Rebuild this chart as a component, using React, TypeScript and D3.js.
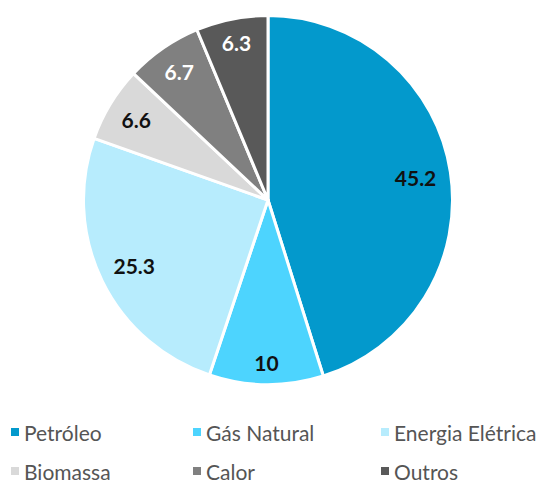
import React from "react";
import * as d3 from "d3";

const categories = ["Petróleo", "Gás Natural", "Energia Elétrica", "Biomassa", "Calor", "Outros"];
const values = [45.2, 10, 25.3, 6.6, 6.7, 6.3];
const colors = ["#0399cc", "#4dd4fe", "#b7ecfd", "#d9d9d9", "#808080", "#595959"];
const labelColors = ["#111", "#111", "#111", "#111", "#fff", "#fff"];

let ctx: CanvasRenderingContext2D | null = null;
function measure(text: string, font: string): number {
  if (!ctx) ctx = document.createElement("canvas").getContext("2d");
  if (!ctx) return text.length * 11;
  ctx.font = font;
  return ctx.measureText(text).width;
}

export default function App() {
  const W = 542, H = 482;
  const cx = 268, cy = 200, R = 184.5;
  const pie = d3.pie<number>().sort(null).value((d) => d);
  const arcs = pie(values);
  const arc = d3.arc<d3.PieArcDatum<number>>().innerRadius(0).outerRadius(R);
  const legendX = [15, 197, 385];
  const legendY = [432, 471];
  const labelFont = "bold 21px Lato";
  const edge = R - 13.5;
  const halfH = 8;
  return (
    <svg width={W} height={H} style={{ position: "absolute", left: 0, top: 0 }} fontFamily="Lato, sans-serif">
      <g transform={`translate(${cx},${cy})`}>
        {arcs.map((a, i) => (
          <path key={i} d={arc(a) || ""} fill={colors[i]} stroke="#fff" strokeWidth={3} strokeLinejoin="round" />
        ))}
        {arcs.map((a, i) => {
          const t = String(values[i]);
          const mid = (a.startAngle + a.endAngle) / 2;
          const s = Math.sin(mid), c = Math.cos(mid);
          const halfW = measure(t, labelFont) / 2;
          const r = edge - (Math.abs(s) * halfW + Math.abs(c) * halfH);
          const x = r * s, y = -r * c;
          return (
            <text key={i} x={x} y={y} textAnchor="middle" dominantBaseline="central" fontSize={21} fontWeight="bold" fill={labelColors[i]}>
              {t}
            </text>
          );
        })}
      </g>
      {categories.map((c, i) => {
        const x = legendX[i % 3];
        const y = legendY[Math.floor(i / 3)];
        return (
          <g key={c}>
            <rect x={x - 4} y={y - 4} width={8} height={8} fill={colors[i]} />
            <text x={x + 9} y={y} dominantBaseline="central" fontSize={21} fill="#555">{c}</text>
          </g>
        );
      })}
    </svg>
  );
}
